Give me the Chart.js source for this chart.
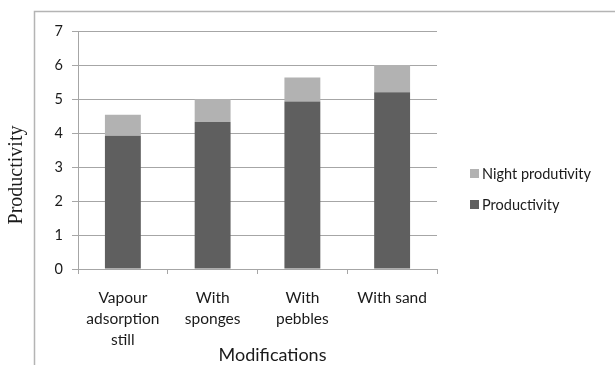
<!DOCTYPE html>
<html>
<head>
<meta charset="utf-8">
<script src="https://cdn.jsdelivr.net/npm/chart.js@4/dist/chart.umd.min.js"></script>
<style>
  html, body { margin: 0; padding: 0; background: #ffffff; }
  #wrap { position: relative; width: 615px; height: 365px; }
</style>
</head>
<body>
<div id="wrap"><canvas id="chart" width="615" height="365"></canvas></div>
<script>
// Still configurations on the category axis
const categories = [
  ["Vapour", "adsorption", "still"],
  ["With", "sponges"],
  ["With", "pebbles"],
  "With sand"
];
// Daytime productivity (lower stack)
const productivity = [3.92, 4.32, 4.93, 5.2];
// Additional night productivity (upper stack)
const nightProductivity = [0.62, 0.68, 0.7, 0.8];
// Value axis ticks
const yTicks = [0, 1, 2, 3, 4, 5, 6, 7];

const xTitle = "Modifications";
const yTitle = "Productivity";

const UI_FONT = "Lato, 'Open Sans', sans-serif";
const TEXT = "#1a1a1a";
const GRID = "#a6a6a6";

// Frame around the whole chart, axis titles and the legend
const decorations = {
  id: "decorations",
  beforeDraw(chart) {
    const ctx = chart.ctx;
    ctx.save();
    ctx.strokeStyle = "#b4b4b4";
    ctx.lineWidth = 1.5;
    ctx.strokeRect(34.5, 11.5, 700, 500);
    ctx.restore();
  },
  afterDraw(chart) {
    const ctx = chart.ctx;
    const area = chart.chartArea;
    ctx.save();
    ctx.fillStyle = TEXT;
    ctx.textBaseline = "middle";

    // x axis title
    ctx.font = "18px " + UI_FONT;
    ctx.textAlign = "center";
    ctx.fillText(xTitle, area.left + (area.right - area.left) / 2 + 15, 355);

    // y axis title
    ctx.save();
    ctx.translate(17, 175);
    ctx.rotate(-Math.PI / 2);
    ctx.font = "20px 'Liberation Serif', 'Times New Roman', serif";
    ctx.fillText(yTitle, 0, 0);
    ctx.restore();

    // legend, last series on top
    ctx.font = "14.5px " + UI_FONT;
    ctx.textAlign = "left";
    const ds = chart.data.datasets.slice().reverse();
    ds.forEach((d, i) => {
      const y = 174 + i * 31;
      ctx.fillStyle = d.backgroundColor;
      ctx.fillRect(470, y - 5, 9, 9);
      ctx.fillStyle = TEXT;
      ctx.fillText(d.label, 482, y);
    });
    ctx.restore();
  }
};

new Chart(document.getElementById("chart"), {
  type: "bar",
  data: {
    labels: categories,
    datasets: [
      {
        label: "Productivity",
        data: productivity,
        backgroundColor: "#5f5f5f",
        categoryPercentage: 1,
        barPercentage: 0.4
      },
      {
        label: "Night produtivity",
        data: nightProductivity,
        backgroundColor: "#b2b2b2",
        categoryPercentage: 1,
        barPercentage: 0.4
      }
    ]
  },
  plugins: [decorations],
  options: {
    responsive: false,
    animation: false,
    layout: { padding: { left: 0, top: 31, right: 178, bottom: 0 } },
    plugins: {
      legend: { display: false },
      tooltip: { enabled: false }
    },
    scales: {
      x: {
        stacked: true,
        afterFit(scale) { scale.height = 96; },
        grid: {
          offset: true,
          drawOnChartArea: false,
          drawTicks: true,
          tickLength: 5,
          color: GRID
        },
        border: { color: GRID, width: 1 },
        ticks: {
          color: TEXT,
          maxRotation: 0,
          autoSkip: false,
          padding: 13,
          font: { family: UI_FONT, size: 15.5, lineHeight: 1.36 }
        }
      },
      y: {
        stacked: true,
        min: 0,
        max: 7,
        afterFit(scale) { scale.width = 78; },
        afterBuildTicks(scale) { scale.ticks = yTicks.map(v => ({ value: v })); },
        grid: {
          color: GRID,
          lineWidth: 1,
          drawTicks: true,
          tickLength: 6
        },
        border: { color: GRID, width: 1 },
        ticks: {
          color: TEXT,
          padding: 9,
          font: { family: UI_FONT, size: 14.5 }
        }
      }
    }
  }
});
</script>
</body>
</html>
